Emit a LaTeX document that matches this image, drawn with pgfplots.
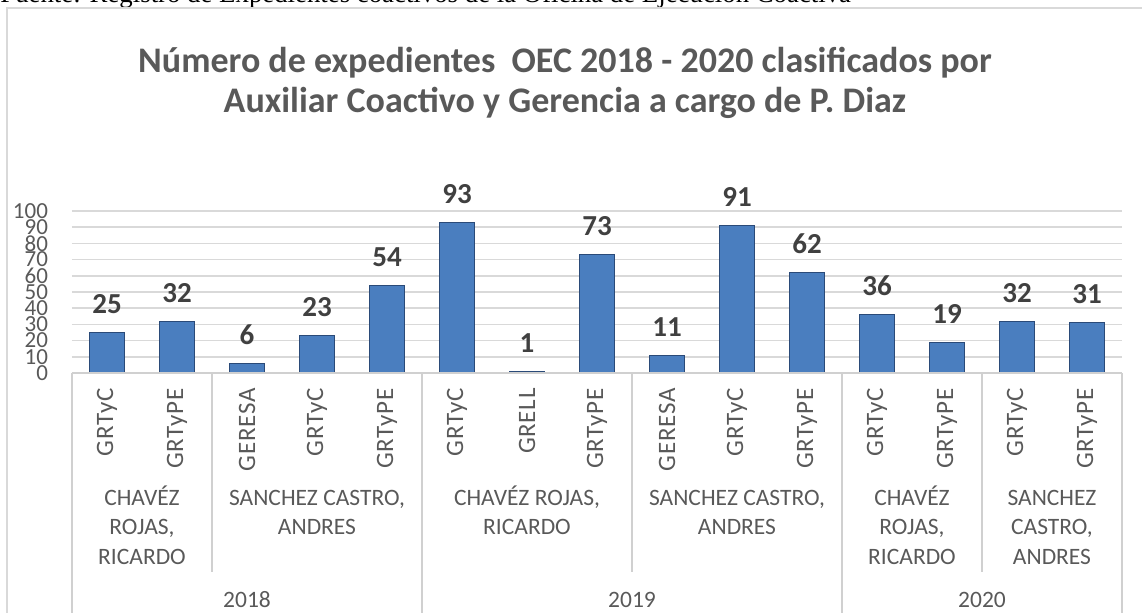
\documentclass[border=0pt]{standalone}
\usepackage{fontspec}
\setmainfont{Carlito}
\newfontfamily\timesfont{Liberation Serif}
\newfontfamily\rotfont[LetterSpace=3]{Carlito}
\usepackage{pgfplots}
\pgfplotsset{compat=1.18}
\definecolor{tgrey}{HTML}{595959}
\definecolor{lgrey}{HTML}{D9D9D9}
\definecolor{sgrey}{HTML}{D0D0D0}
\definecolor{dlab}{HTML}{404040}
\definecolor{barfill}{HTML}{4A7EBF}
\definecolor{barline}{HTML}{2A4A78}
\begin{document}
\begin{tikzpicture}[x=1pt,y=1pt]
\useasboundingbox (0,0) rectangle (571,306);
\node[anchor=base west, inner sep=0pt, font=\timesfont\fontsize{13.4}{15}\selectfont] at (0,304.5) {Fuente: Registro de Expedientes coactivos de la Oficina de Ejecución Coactiva};
\draw[lgrey, line width=0.75pt] (3.5,-5) -- (3.5,302) -- (580,302);
\node[anchor=base, inner sep=0pt, font=\bfseries\fontsize{18}{21}\selectfont, text=tgrey] at (282.5,269.5) {Número de expedientes\ \ OEC 2018 - 2020 clasificados por};
\node[anchor=base, inner sep=0pt, font=\bfseries\fontsize{18}{21}\selectfont, text=tgrey] at (282.5,249.5) {Auxiliar Coactivo y Gerencia a cargo de P. Diaz};
\begin{axis}[
  at={(36pt,119.5pt)}, anchor=south west,
  scale only axis, width=525pt, height=81pt,
  xmin=-0.5, xmax=14.5, ymin=0, ymax=100,
  ytick={0,10,...,100},
  xtick=\empty,
  ymajorgrids, grid style={lgrey, line width=0.75pt},
  axis line style={draw=none},
  major tick length=0pt,
  /pgf/number format/assume math mode=true,
  yticklabel style={font=\fontsize{11.5}{11.5}\selectfont, text=tgrey, xshift=-8.5pt},
  ybar, bar width=17.5pt,
  nodes near coords,
  every node near coord/.append style={font=\bfseries\fontsize{14.5}{15}\selectfont, text=dlab, inner sep=0pt, yshift=9pt},
  clip=false,
]
\addplot[draw=barline, fill=barfill, line width=0.6pt] coordinates {(0,25) (1,32) (2,6) (3,23) (4,54) (5,93) (6,1) (7,73) (8,11) (9,91) (10,62) (11,36) (12,19) (13,32) (14,31)};
\end{axis}
\draw[sgrey, line width=0.75pt] (36,119.5) -- (561,119.5);
\foreach \xx in {36,211,421,561} \draw[sgrey, line width=0.75pt] (\xx,119.5) -- (\xx,-5);
\foreach \xx in {106,316,491} \draw[sgrey, line width=0.75pt] (\xx,119.5) -- (\xx,20);
\foreach \i/\t in {0/GRTyC,1/GRTyPE,2/GERESA,3/GRTyC,4/GRTyPE,5/GRTyC,6/GRELL,7/GRTyPE,8/GERESA,9/GRTyC,10/GRTyPE,11/GRTyC,12/GRTyPE,13/GRTyC,14/GRTyPE}
  \node[rotate=90, anchor=east, inner sep=0pt, font=\rotfont\fontsize{12.5}{13}\selectfont, text=tgrey] at ({36+35*(\i+0.5)},112) {\t};
\tikzset{nm/.style={anchor=base, inner sep=0pt, font=\fontsize{11.75}{14.75}\selectfont, text=tgrey}}
\node[nm] at (71,53.5) {CHAVÉZ};
\node[nm] at (71,38.75) {ROJAS,};
\node[nm] at (71,24) {RICARDO};
\node[nm] at (158.5,53.5) {SANCHEZ CASTRO,};
\node[nm] at (158.5,38.75) {ANDRES};
\node[nm] at (263.5,53.5) {CHAVÉZ ROJAS,};
\node[nm] at (263.5,38.75) {RICARDO};
\node[nm] at (368.5,53.5) {SANCHEZ CASTRO,};
\node[nm] at (368.5,38.75) {ANDRES};
\node[nm] at (456,53.5) {CHAVÉZ};
\node[nm] at (456,38.75) {ROJAS,};
\node[nm] at (456,24) {RICARDO};
\node[nm] at (526,53.5) {SANCHEZ};
\node[nm] at (526,38.75) {CASTRO,};
\node[nm] at (526,24) {ANDRES};
\node[nm] at (123.5,2.25) {2018};
\node[nm] at (316,2.25) {2019};
\node[nm] at (491,2.25) {2020};
\end{tikzpicture}
\end{document}
